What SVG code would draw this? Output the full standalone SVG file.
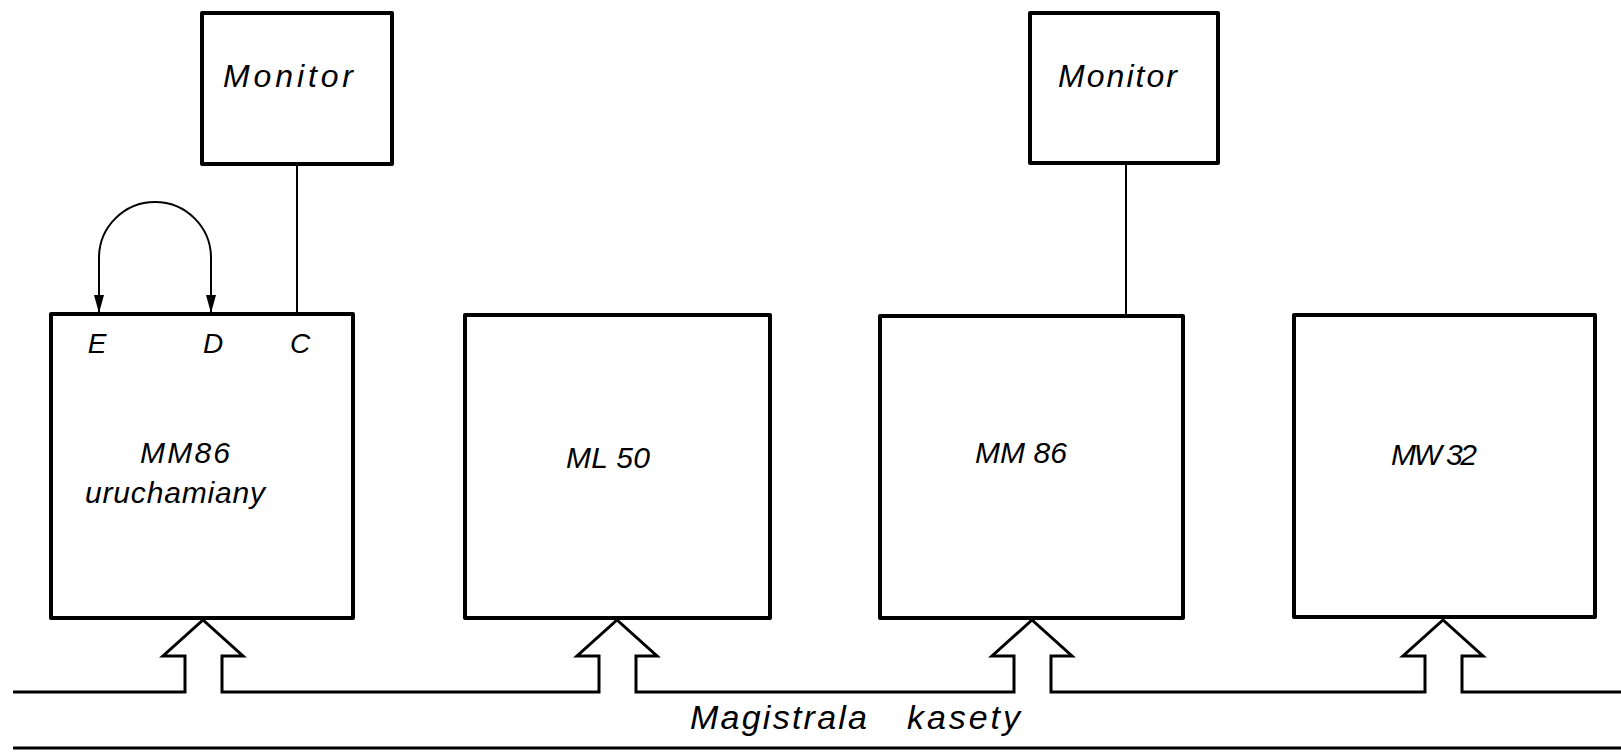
<svg xmlns="http://www.w3.org/2000/svg" width="1621" height="752" viewBox="0 0 1621 752">
<style>
  .box { fill: none; stroke: #000; stroke-width: 4; stroke-linejoin: round; }
  .wire { fill: none; stroke: #000; stroke-width: 2; }
  .bus { fill: none; stroke: #000; stroke-width: 3; stroke-linejoin: miter; }
  .lbl { font-family: "Liberation Sans", "DejaVu Sans", sans-serif; font-style: italic; fill: #000; }
  .big { font-size: 32px; }
  .mid { font-size: 30px; }
  .pin { font-size: 28px; text-anchor: middle; }
</style>
<defs>
  <marker id="ah" viewBox="0 0 18 10" refX="18" refY="5" markerWidth="18" markerHeight="10" markerUnits="userSpaceOnUse" orient="auto-start-reverse">
    <path d="M0,0 L18,5 L0,10 z" fill="#000"/>
  </marker>
</defs>
<rect width="1621" height="752" fill="#fff"/>

<g id="monitor1">
  <rect class="box" x="202" y="13" width="190" height="151"/>
  <text class="lbl big" x="223" y="87" textLength="130" lengthAdjust="spacing">Monitor</text>
</g>
<g id="monitor2">
  <rect class="box" x="1030" y="13" width="188" height="150"/>
  <text class="lbl big" x="1058" y="87" textLength="119" lengthAdjust="spacing">Monitor</text>
</g>
<g id="mm86-uruchamiany">
  <rect class="box" x="51" y="314" width="302" height="304"/>
  <text class="lbl pin" x="97" y="353">E</text>
  <text class="lbl pin" x="213" y="353">D</text>
  <text class="lbl pin" x="300" y="353">C</text>
  <text class="lbl mid" x="140" y="463" textLength="90" lengthAdjust="spacing">MM86</text>
  <text class="lbl mid" x="85" y="503" textLength="180" lengthAdjust="spacing">uruchamiany</text>
</g>
<g id="ml50">
  <rect class="box" x="465" y="315" width="305" height="303"/>
  <text class="lbl mid" x="566" y="468" textLength="84" lengthAdjust="spacing">ML 50</text>
</g>
<g id="mm86">
  <rect class="box" x="880" y="316" width="303" height="302"/>
  <text class="lbl mid" x="975" y="463" textLength="92" lengthAdjust="spacing">MM 86</text>
</g>
<g id="mw32">
  <rect class="box" x="1294" y="315" width="301" height="302"/>
  <text class="lbl mid" x="1391" y="465" textLength="86" lengthAdjust="spacing">MW 32</text>
</g>
<g id="bus">
  <path class="bus" d="M13,692 H185 V656 H163 L203,620 L243,656 H222 V692 H599 V656 H577 L617,620 L657,656 H636 V692 H1014 V656 H992 L1032,620 L1072,656 H1051 V692 H1425 V656 H1403 L1443,620 L1483,656 H1462 V692 H1621"/>
  <line class="bus" x1="13" y1="748" x2="1621" y2="748" stroke-width="4"/>
  <text class="lbl" font-size="34" x="690" y="729" textLength="177" lengthAdjust="spacing">Magistrala</text>
  <text class="lbl" font-size="34" x="907" y="729" textLength="113" lengthAdjust="spacing">kasety</text>
</g>
<g id="connectors">
  <line class="wire" x1="297" y1="164" x2="297" y2="314"/>
  <line class="wire" x1="1126" y1="163" x2="1126" y2="316"/>
  <path class="wire" stroke-width="2.5" d="M99,313 V258 A56,56 0 0 1 211,258 V313" marker-start="url(#ah)" marker-end="url(#ah)"/>
</g>
</svg>
